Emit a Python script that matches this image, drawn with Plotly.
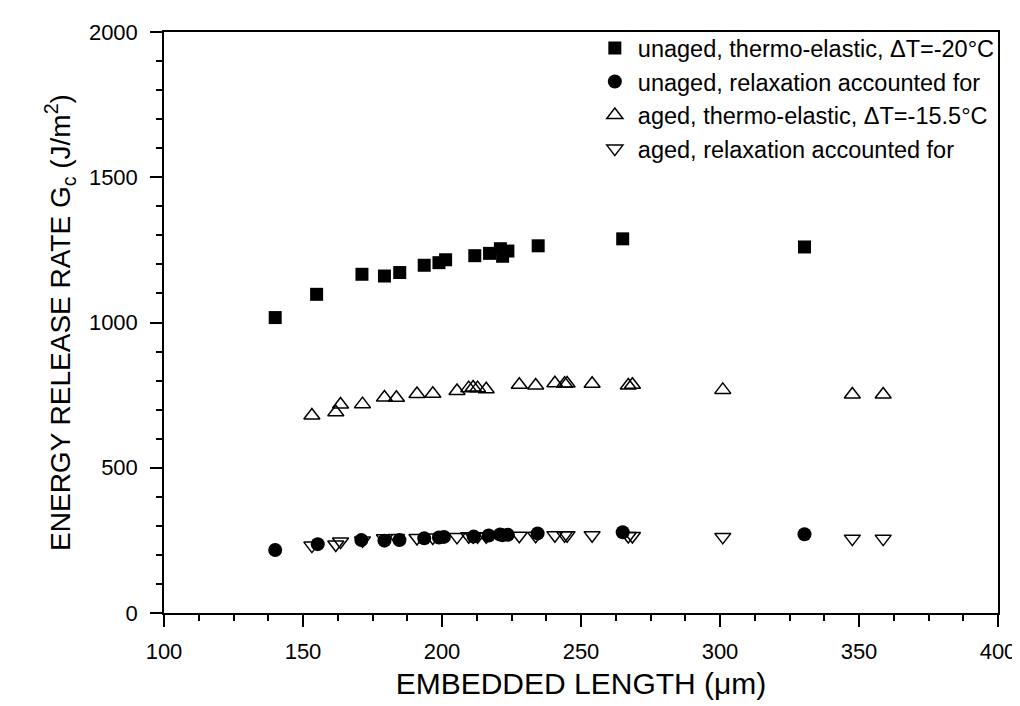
import plotly.graph_objects as go

# unaged, thermo-elastic (filled squares)
sq_x = [140.0, 154.9, 171.2, 179.3, 184.8, 193.6, 198.9, 201.3, 211.8, 217.1, 221.0, 221.8, 223.7, 234.6, 265.0, 330.4]
sq_y = [1017, 1097, 1166, 1160, 1172, 1197, 1206, 1216, 1230, 1238, 1254, 1228, 1246, 1264, 1288, 1260]

# unaged, relaxation accounted for (filled circles)
ci_x = [140.0, 155.3, 171.0, 179.3, 184.7, 193.6, 198.9, 200.7, 211.4, 216.8, 220.9, 221.8, 223.7, 234.4, 265.0, 330.4]
ci_y = [217, 237, 251, 249, 251, 257, 260, 262, 263, 267, 270, 268, 269, 274, 278, 271]

# aged, thermo-elastic (open up triangles)
tu_x = [153.2, 161.8, 163.5, 171.4, 179.3, 183.6, 191.0, 196.7, 205.4, 209.6, 211.2, 212.8, 215.9,
        227.8, 233.7, 240.6, 244.1, 245.0, 254.0, 267.0, 268.5, 301.0, 347.6, 358.7]
tu_y = [680, 691, 718, 719, 742, 741, 754, 755, 764, 774, 776, 774, 770,
        786, 783, 791, 789, 790, 789, 783, 786, 768, 752, 752]

# aged, relaxation accounted for (open down triangles)
td_x = tu_x
td_y = [232, 236, 246, 250, 257, 258, 258, 260, 262, 264, 264, 264, 264,
        266, 266, 268, 268, 268, 268, 265, 265, 262, 256, 256]

names = [
    "unaged, thermo-elastic, \u0394T=-20\u00b0C",
    "unaged, relaxation accounted for",
    "aged, thermo-elastic, \u0394T=-15.5\u00b0C",
    "aged, relaxation accounted for",
]

FONT = "Liberation Sans, Arial, sans-serif"

fig = go.Figure()
fig.add_trace(go.Scatter(x=tu_x, y=tu_y, mode="markers", name=names[2],
                         marker=dict(symbol="triangle-up-open", size=14, color="black",
                                     line=dict(width=1.5, color="black")), legendrank=3))
fig.add_trace(go.Scatter(x=td_x, y=td_y, mode="markers", name=names[3],
                         marker=dict(symbol="triangle-down-open", size=14, color="black",
                                     line=dict(width=1.5, color="black")), legendrank=4))
fig.add_trace(go.Scatter(x=sq_x, y=sq_y, mode="markers", name=names[0],
                         marker=dict(symbol="square", size=13, color="black"), legendrank=1))
fig.add_trace(go.Scatter(x=ci_x, y=ci_y, mode="markers", name=names[1],
                         marker=dict(symbol="circle", size=14, color="black"), legendrank=2))

axis_common = dict(showgrid=False, zeroline=False, showline=True, linecolor="black",
                   linewidth=1.5, tickcolor="black", tickwidth=1.5)

fig.update_layout(
    width=1020, height=706,
    margin=dict(l=156, r=22, t=22, b=101),
    paper_bgcolor="white", plot_bgcolor="white",
    font=dict(family=FONT, size=22, color="black"),
    showlegend=True,
    legend=dict(x=0.513, y=1.01, xanchor="left", yanchor="top", bgcolor="rgba(0,0,0,0)",
                font=dict(size=23.5), itemwidth=36, tracegroupgap=0),
    xaxis=dict(range=[100, 400], dtick=50, tick0=100, ticks="outside", ticklen=12,
               ticklabelstandoff=6,
               minor=dict(dtick=12.5, ticks="outside", ticklen=6, tickcolor="black", tickwidth=1.5),
               mirror=True,
               title=dict(text="EMBEDDED LENGTH (\u03bcm)", font=dict(size=30), standoff=10),
               **axis_common),
    yaxis=dict(range=[0, 2000], dtick=500, tick0=0, ticks="outside", ticklen=12,
               ticklabelstandoff=8,
               minor=dict(dtick=100, ticks="outside", ticklen=6, tickcolor="black", tickwidth=1.5),
               mirror=True,
               title=dict(text="ENERGY RELEASE RATE G<sub>c</sub> (J/m<sup>2</sup>)", font=dict(size=28), standoff=10),
               **axis_common),
    xaxis2=dict(range=[100, 400], dtick=50, tick0=100, ticks="inside", ticklen=12,
                overlaying="x", anchor="y", side="bottom", showticklabels=False, mirror="ticks",
                minor=dict(dtick=12.5, ticks="inside", ticklen=6, tickcolor="black", tickwidth=1.5),
                **axis_common),
    yaxis2=dict(range=[0, 2000], dtick=500, tick0=0, ticks="inside", ticklen=12,
                overlaying="y", anchor="x", side="left", showticklabels=False, mirror="ticks",
                minor=dict(dtick=100, ticks="inside", ticklen=6, tickcolor="black", tickwidth=1.5),
                **axis_common),
)

fig.write_html("out.html")
